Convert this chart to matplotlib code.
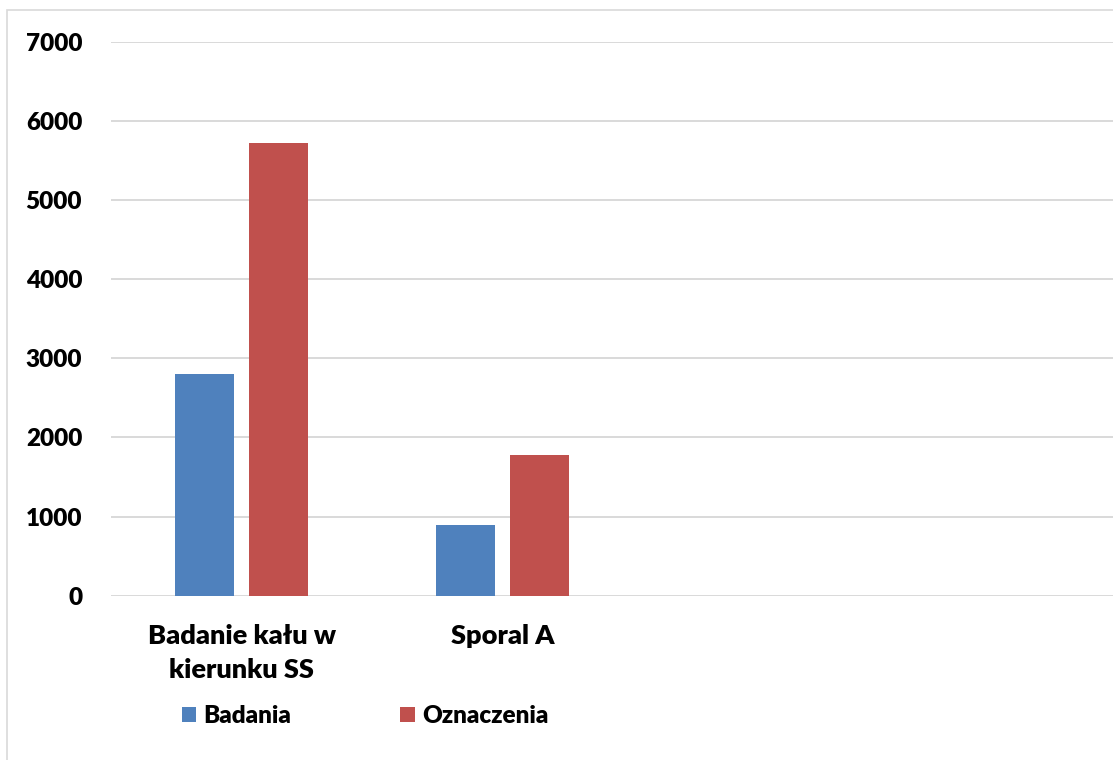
import matplotlib
matplotlib.use("Agg")
import matplotlib.pyplot as plt
from matplotlib.patches import Patch, Rectangle
import numpy as np

plt.rcParams['font.family'] = ['Lato', 'DejaVu Sans']

# Data
categories = ["Badanie kału w\nkierunku SS", "Sporal A"]
series_names = ["Badania", "Oznaczenia"]
badania = [2800, 890]
oznaczenia = [5720, 1780]
y_ticks = [0, 1000, 2000, 3000, 4000, 5000, 6000, 7000]

colors = ["#4F81BD", "#C0504D"]
grid_color = "#D9D9D9"
fs = 17.5
fs_cat = 19.5
wt = 'heavy'

fig = plt.figure(figsize=(11.13, 7.6), dpi=100)
fig.patch.set_facecolor("white")

# Chart-area frame
fig.patches.append(Rectangle((6.5 / 1113, -0.05), 1.2, 1.05 - 10.5 / 760,
                             transform=fig.transFigure, fill=False,
                             edgecolor=grid_color, linewidth=1.2, zorder=0))

ax = fig.add_axes([111.3 / 1113, 1 - 595.6 / 760, 1 - 111.3 / 1113, (595.6 - 42) / 760])

x = np.arange(len(categories))
bw = 0.2243
off = 0.1419
ax.bar(x - off, badania, width=bw, color=colors[0], zorder=3, label=series_names[0])
ax.bar(x + off, oznaczenia, width=bw, color=colors[1], zorder=3, label=series_names[1])

ax.set_xlim(-0.5, -0.5 + 1001.7 / 260.8)
ax.set_ylim(0, 7000)
ax.set_yticks(y_ticks)
ax.set_yticklabels([str(v) for v in y_ticks], fontsize=fs, fontweight=wt)
ax.set_xticks(x)
ax.set_xticklabels(categories, fontsize=fs_cat, fontweight=wt, linespacing=1.5)
ax.tick_params(axis='y', length=0, pad=21)
ax.tick_params(axis='x', length=0, pad=20.5)

ax.grid(axis='y', color=grid_color, linewidth=1.4, zorder=0)
ax.set_axisbelow(True)
for s in ax.spines.values():
    s.set_visible(False)

handles = [Patch(facecolor=colors[0]), Patch(facecolor=colors[1])]
fig.legend(handles, series_names, loc='center', bbox_to_anchor=(365 / 1113, 1 - 716 / 760),
           ncol=2, frameon=False, prop={'size': fs, 'weight': wt},
           handlelength=0.58, handleheight=0.58, handletextpad=0.3, columnspacing=4.5)

fig.savefig("out.png", dpi=100, facecolor="white")
